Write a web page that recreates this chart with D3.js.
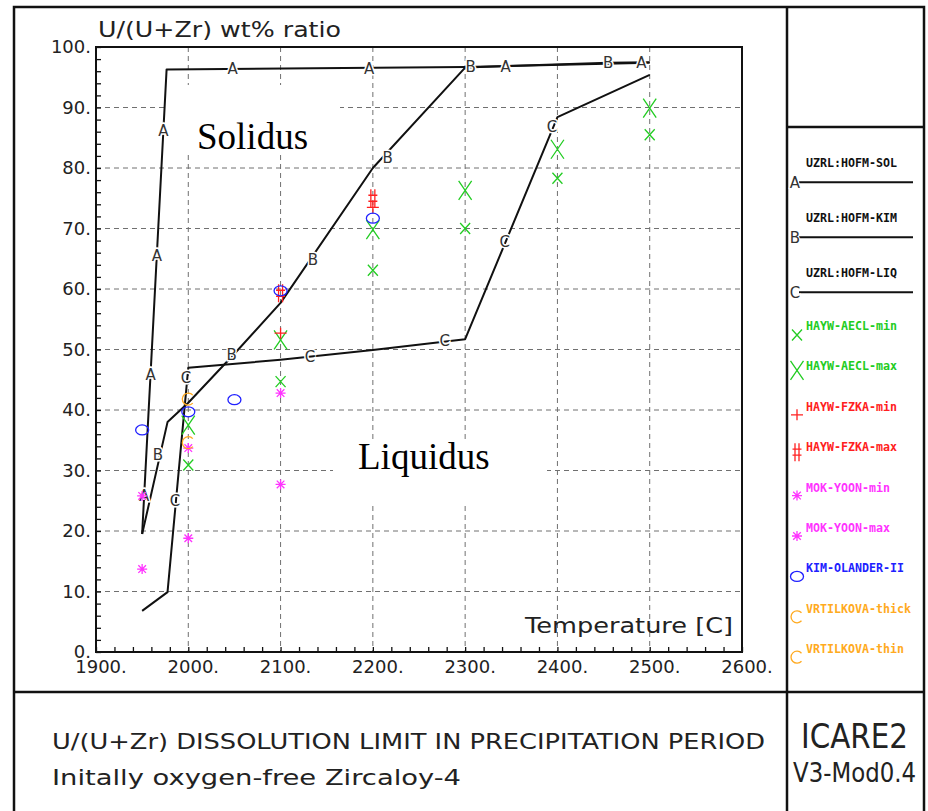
<!DOCTYPE html>
<html>
<head>
<meta charset="utf-8">
<script src="https://cdn.jsdelivr.net/npm/d3@7"></script>
<style>
body { margin: 0; background: #fff; }
svg { display: block; }
</style>
</head>
<body>
<div id="chart"></div>
<script>
// model curves (ICARE2)
const solT = [1950, 1976.5, 2300, 2500];
const solV = [19.5, 96.3, 96.7, 97.4];
const kimT = [1950, 1977.5, 2000, 2050, 2100, 2200, 2300, 2455, 2500];
const kimV = [19.5, 38.0, 41.2, 49.3, 57.7, 80.0, 96.6, 97.4, 97.5];
const liqT = [1950, 1977.5, 2000, 2100, 2200, 2300, 2400, 2500];
const liqV = [6.8, 9.9, 47.0, 48.3, 49.9, 51.7, 88.4, 95.4];

// where the curve letters sit
const solLabT = [1952.2, 1959.2, 1965.9, 1973.0, 2048, 2196, 2344, 2491];
const solLabV = [25.8, 45.8, 65.6, 86.1, 96.4, 96.5, 96.7, 97.4];
const kimLabT = [1967, 2047, 2135, 2216, 2306, 2455];
const kimLabV = [32.6, 49.1, 64.8, 81.7, 96.7, 97.4];
const liqLabT = [1985.6, 1997.5, 2132, 2278, 2343, 2394];
const liqLabV = [25.1, 45.3, 48.8, 51.4, 67.9, 86.8];

// experiments
const aeclMinT = [2000, 2100, 2200, 2300, 2400, 2500];
const aeclMinV = [30.9, 44.7, 63.1, 70.0, 78.3, 85.5];
const aeclMaxT = [2000, 2100, 2200, 2300, 2400, 2500];
const aeclMaxV = [37.5, 51.6, 69.8, 76.3, 83.1, 89.9];
const fzkaMinT = [2100, 2200];
const fzkaMinV = [52.7, 73.5];
const fzkaMaxT = [2100, 2200];
const fzkaMaxV = [59.3, 75.0];
const mokMinT = [1950, 2000, 2100];
const mokMinV = [13.7, 18.8, 27.7];
const mokMaxT = [1950, 2000, 2100];
const mokMaxV = [25.8, 33.7, 42.8];
const kimOlT = [1950, 2000, 2050, 2100, 2200];
const kimOlV = [36.7, 39.7, 41.7, 59.7, 71.7];
const vrtThickT = [2000];
const vrtThickV = [41.8];
const vrtThinT = [2000];
const vrtThinV = [34.6];

const xTicks = d3.range(1900, 2601, 20);
const yTicks = d3.range(0, 101, 2);

const width = 928;
const height = 811;
const plot = { left: 96, top: 47, right: 742, bottom: 652 };

const green = "#22cc22", red = "#ff2020", magenta = "#ff33ff", blue = "#2020ff", orange = "#ffaa20";

const zip = (t, v) => t.map((d, i) => ({ t: d, v: v[i] }));

const curves = [
    { name: "UZRL:HOFM-SOL", letter: "A", data: zip(solT, solV), labels: zip(solLabT, solLabV) },
    { name: "UZRL:HOFM-KIM", letter: "B", data: zip(kimT, kimV), labels: zip(kimLabT, kimLabV) },
    { name: "UZRL:HOFM-LIQ", letter: "C", data: zip(liqT, liqV), labels: zip(liqLabT, liqLabV) }
];

const symbols = {
    xs: "M-5,-5.5L5,5.5M-5,5.5L5,-5.5",
    xl: "M-6.5,-9.5L6.5,9.5M-6.5,9.5L6.5,-9.5",
    plus: "M-6,0L6,0M0,-5.5L0,5.5",
    hash: "M-2,-9L-2,9M2,-9L2,9M-4.5,-3L4.5,-3M-4.5,3L4.5,3",
    star: "M-5,0L5,0M0,-5L0,5M-3.8,-3.8L3.8,3.8M-3.8,3.8L3.8,-3.8",
    circ: "M-6.5,0A6.5,5 0 1,0 6.5,0A6.5,5 0 1,0 -6.5,0",
    cee: "M4.5,-4A6,6 0 1,0 4.5,4"
};

const series = [
    { name: "HAYW-AECL-min", color: green, sym: "xs", ldy: 5, data: zip(aeclMinT, aeclMinV) },
    { name: "HAYW-AECL-max", color: green, sym: "xl", ldy: 0, data: zip(aeclMaxT, aeclMaxV) },
    { name: "HAYW-FZKA-min", color: red, sym: "plus", ldy: 4, data: zip(fzkaMinT, fzkaMinV) },
    { name: "HAYW-FZKA-max", color: red, sym: "hash", ldy: 1, data: zip(fzkaMaxT, fzkaMaxV) },
    { name: "MOK-YOON-min", color: magenta, sym: "star", ldy: 4, data: zip(mokMinT, mokMinV) },
    { name: "MOK-YOON-max", color: magenta, sym: "star", ldy: 4, data: zip(mokMaxT, mokMaxV) },
    { name: "KIM-OLANDER-II", color: blue, sym: "circ", ldy: 4, data: zip(kimOlT, kimOlV) },
    { name: "VRTILKOVA-thick", color: orange, sym: "cee", ldy: 4, data: zip(vrtThickT, vrtThickV) },
    { name: "VRTILKOVA-thin", color: orange, sym: "cee", ldy: 4, data: zip(vrtThinT, vrtThinV) }
];

const svg = d3.select("div#chart").append("svg")
    .attr("width", width)
    .attr("height", height)
    .style("background", "#fff");

const x = d3.scaleLinear().domain([1900, 2600]).range([plot.left, plot.right]);
const y = d3.scaleLinear().domain([0, 100]).range([plot.bottom, plot.top]);

const cad = "DejaVu Sans, sans-serif";

// grid
const grid = svg.append("g")
    .attr("stroke", "#707070")
    .attr("stroke-width", 1)
    .attr("stroke-dasharray", "5,4");
grid.selectAll(".gx")
    .data(d3.range(2000, 2501, 100))
    .enter().append("line")
    .attr("x1", d => x(d)).attr("x2", d => x(d))
    .attr("y1", plot.top).attr("y2", plot.bottom);
grid.selectAll(".gy")
    .data(d3.range(10, 91, 10))
    .enter().append("line")
    .attr("y1", d => y(d)).attr("y2", d => y(d))
    .attr("x1", plot.left).attr("x2", plot.right);

// white boxes behind the region names
svg.append("rect").attr("x", 165).attr("y", 85).attr("width", 175).attr("height", 68).attr("fill", "#fff");
svg.append("rect").attr("x", 333).attr("y", 440).attr("width", 214).attr("height", 63).attr("fill", "#fff");
svg.append("text")
    .attr("x", 197).attr("y", 149)
    .attr("font-family", "Liberation Serif, serif")
    .attr("font-size", 37)
    .text("Solidus");
svg.append("text")
    .attr("x", 358).attr("y", 469)
    .attr("font-family", "Liberation Serif, serif")
    .attr("font-size", 37)
    .text("Liquidus");

// axes
const yAxis = d3.axisLeft(y).tickValues(yTicks).tickSize(-5).tickPadding(5)
    .tickFormat(d => d % 10 === 0 ? d + "." : "");
const xAxis = d3.axisBottom(x).tickValues(xTicks).tickSize(-5).tickPadding(8)
    .tickFormat(d => d % 100 === 0 ? d + "." : "");

const yAxisGroup = svg.append("g").attr("transform", `translate(${plot.left},0)`).call(yAxis);
const xAxisGroup = svg.append("g").attr("transform", `translate(0,${plot.bottom})`).call(xAxis);
[yAxisGroup, xAxisGroup].forEach(g => {
    g.select(".domain").remove();
    g.selectAll("line").attr("stroke", "#111").attr("stroke-width", 1.3);
    g.selectAll("text").attr("font-family", cad).attr("font-size", 18).attr("fill", "#222");
});
xAxisGroup.selectAll("text").attr("dx", "0.25em");

svg.append("rect")
    .attr("x", plot.left).attr("y", plot.top)
    .attr("width", plot.right - plot.left).attr("height", plot.bottom - plot.top)
    .attr("fill", "none").attr("stroke", "#111").attr("stroke-width", 2);

svg.append("text")
    .attr("x", 98).attr("y", 37)
    .attr("font-family", cad).attr("font-size", 21).attr("fill", "#222")
    .attr("textLength", 243).attr("lengthAdjust", "spacingAndGlyphs")
    .text("U/(U+Zr) wt% ratio");
svg.append("text")
    .attr("x", 733).attr("y", 633)
    .attr("text-anchor", "end")
    .attr("font-family", cad).attr("font-size", 21).attr("fill", "#222")
    .attr("textLength", 208).attr("lengthAdjust", "spacingAndGlyphs")
    .text("Temperature [C]");

// curves
const line = d3.line().x(d => x(d.t)).y(d => y(d.v));
const curveGroup = svg.append("g");
curves.forEach(c => {
    curveGroup.append("path")
        .datum(c.data)
        .attr("d", line)
        .attr("fill", "none")
        .attr("stroke", "#111")
        .attr("stroke-width", 2)
        .attr("stroke-linejoin", "round");
});
curves.forEach(c => {
    curveGroup.selectAll(null)
        .data(c.labels)
        .enter().append("text")
        .attr("x", d => x(d.t))
        .attr("y", d => y(d.v))
        .attr("dy", "0.36em")
        .attr("text-anchor", "middle")
        .attr("font-family", cad).attr("font-size", 15)
        .attr("fill", "#333")
        .attr("stroke", "#fff").attr("stroke-width", 3).attr("paint-order", "stroke")
        .text(c.letter);
});

// experimental points
series.forEach(s => {
    svg.append("g").selectAll("path")
        .data(s.data)
        .enter().append("path")
        .attr("transform", d => `translate(${x(d.t)},${y(d.v)})`)
        .attr("d", symbols[s.sym])
        .attr("fill", "none")
        .attr("stroke", s.color)
        .attr("stroke-width", 1.3);
});

// frame
const frame = svg.append("g").attr("stroke", "#111").attr("stroke-width", 2.5).attr("fill", "none");
frame.append("path").attr("d", "M14,811V7H924V811");
frame.append("line").attr("x1", 787).attr("x2", 787).attr("y1", 7).attr("y2", 811);
frame.append("line").attr("x1", 14).attr("x2", 924).attr("y1", 692).attr("y2", 692);
frame.append("line").attr("x1", 787).attr("x2", 924).attr("y1", 127).attr("y2", 127);

// legend
const legend = svg.append("g");
curves.forEach((c, i) => {
    const yb = 166.7 + i * 55;
    legend.append("text")
        .attr("x", 806).attr("y", yb)
        .attr("font-family", "DejaVu Sans Mono, monospace").attr("font-weight", "bold")
        .attr("font-size", 13).attr("fill", "#111")
        .attr("textLength", c.name.length * 7).attr("lengthAdjust", "spacingAndGlyphs")
        .text(c.name);
    legend.append("line")
        .attr("x1", 799).attr("x2", 913).attr("y1", yb + 15.5).attr("y2", yb + 15.5)
        .attr("stroke", "#111").attr("stroke-width", 2);
    legend.append("text")
        .attr("x", 795).attr("y", yb + 15.5).attr("dy", "0.36em")
        .attr("text-anchor", "middle")
        .attr("font-family", cad).attr("font-size", 15).attr("fill", "#333")
        .attr("stroke", "#fff").attr("stroke-width", 2).attr("paint-order", "stroke")
        .text(c.letter);
});
series.forEach((s, i) => {
    const yb = 330 + i * 40.4;
    legend.append("text")
        .attr("x", 806).attr("y", yb)
        .attr("font-family", "DejaVu Sans Mono, monospace").attr("font-weight", "bold")
        .attr("font-size", 13).attr("fill", s.color)
        .attr("textLength", s.name.length * 7).attr("lengthAdjust", "spacingAndGlyphs")
        .text(s.name);
    legend.append("path")
        .attr("transform", `translate(797,${yb + s.ldy})`)
        .attr("d", symbols[s.sym])
        .attr("fill", "none").attr("stroke", s.color).attr("stroke-width", 1.3);
});

// title block
svg.append("text")
    .attr("x", 52).attr("y", 749)
    .attr("font-family", cad).attr("font-size", 21).attr("fill", "#222")
    .attr("textLength", 713).attr("lengthAdjust", "spacingAndGlyphs")
    .text("U/(U+Zr) DISSOLUTION LIMIT IN PRECIPITATION PERIOD");
svg.append("text")
    .attr("x", 52).attr("y", 785)
    .attr("font-family", cad).attr("font-size", 21).attr("fill", "#222")
    .attr("textLength", 409).attr("lengthAdjust", "spacingAndGlyphs")
    .text("Initally oxygen-free Zircaloy-4");
svg.append("text")
    .attr("x", 801).attr("y", 748)
    .attr("font-family", cad).attr("font-size", 34).attr("fill", "#222")
    .attr("textLength", 107).attr("lengthAdjust", "spacingAndGlyphs")
    .text("ICARE2");
svg.append("text")
    .attr("x", 793).attr("y", 782)
    .attr("font-family", cad).attr("font-size", 26).attr("fill", "#222")
    .attr("textLength", 123).attr("lengthAdjust", "spacingAndGlyphs")
    .text("V3-Mod0.4");
</script>
</body>
</html>
